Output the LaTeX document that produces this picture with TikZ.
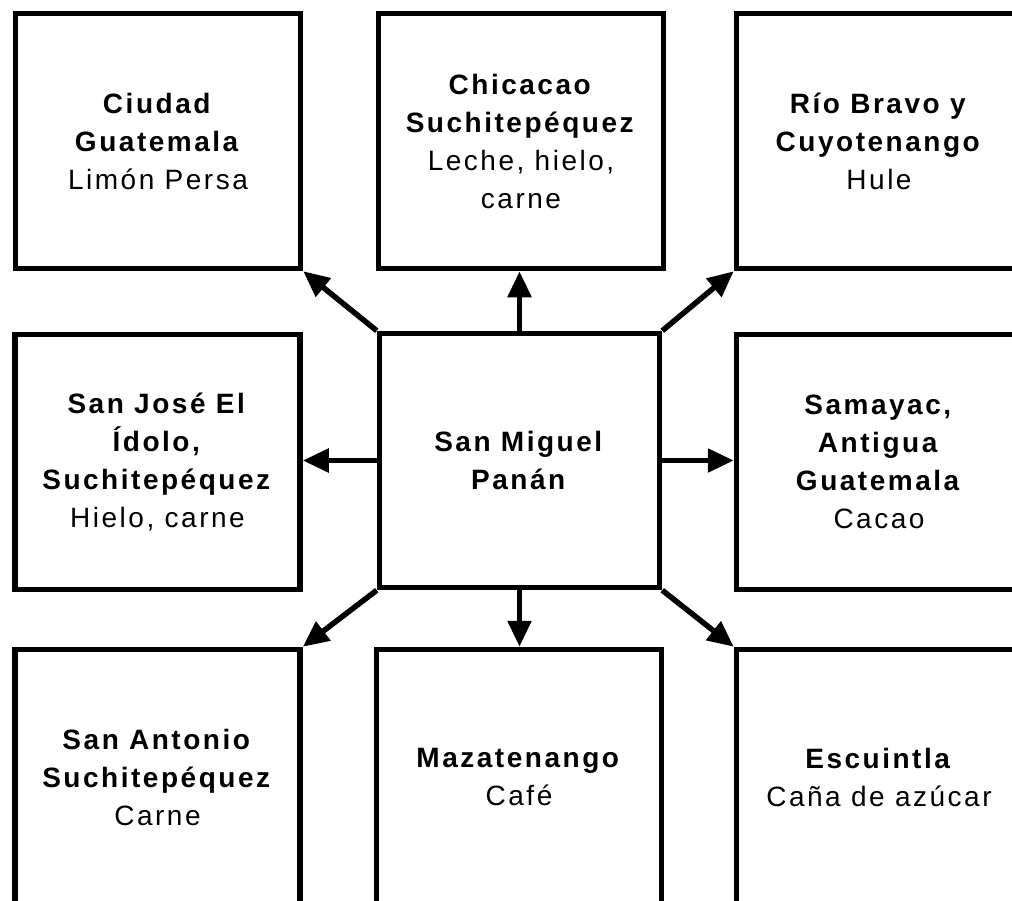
\documentclass[tikz,border=0pt]{standalone}
\usepackage{fontspec}
\setmainfont{Liberation Sans}[LetterSpace=9]
\usetikzlibrary{arrows.meta}
\begin{document}
\begin{tikzpicture}[x=1pt,y=-1pt,
  box/.style={draw=black, line width=5.5pt, rectangle, minimum width=285pt, minimum height=255pt,
    inner sep=0pt, align=center, font=\fontsize{28}{38}\selectfont},
  link/.style={line width=5.5pt, -{Triangle[length=26pt,width=23pt]}}]
\useasboundingbox (0,0) rectangle (1012,900);
\clip (0,0) rectangle (1012,900);
\node[box] (A) at (158,141) {\textbf{Ciudad}\\\textbf{Guatemala}\\Limón Persa};
\node[box] (B) at (521,141) {\textbf{Chicacao}\\\textbf{Suchitepéquez}\\Leche, hielo,\\carne};
\node[box] (C) at (879,141) {\textbf{Río Bravo y}\\\textbf{Cuyotenango}\\Hule};
\node[box] (D) at (157.5,462) {\textbf{San José El}\\\textbf{Ídolo,}\\\textbf{Suchitepéquez}\\Hielo, carne};
\node[box, minimum width=280pt, minimum height=254pt] (E) at (519.5,460.5) {\textbf{San Miguel}\\\textbf{Panán}};
\node[box] (F) at (879,462) {\textbf{Samayac,}\\\textbf{Antigua}\\\textbf{Guatemala}\\Cacao};
\node[box] (G) at (157.5,777) {\textbf{San Antonio}\\\textbf{Suchitepéquez}\\Carne};
\node[box] (H) at (519,777) {\textbf{Mazatenango}\\Café};
\node[box] (I) at (879,777) {\textbf{Escuintla}\\Caña de azúcar};
\draw[link] (E.north west) -- (A.south east);
\draw[link] (E.north) -- (E.north |- B.south);
\draw[link] (E.north east) -- (C.south west);
\draw[link] (E.west) -- (E.west -| D.east);
\draw[link] (E.east) -- (E.east -| F.west);
\draw[link] (E.south west) -- (G.north east);
\draw[link] (E.south) -- (E.south |- H.north);
\draw[link] (E.south east) -- (I.north west);
\end{tikzpicture}
\end{document}
